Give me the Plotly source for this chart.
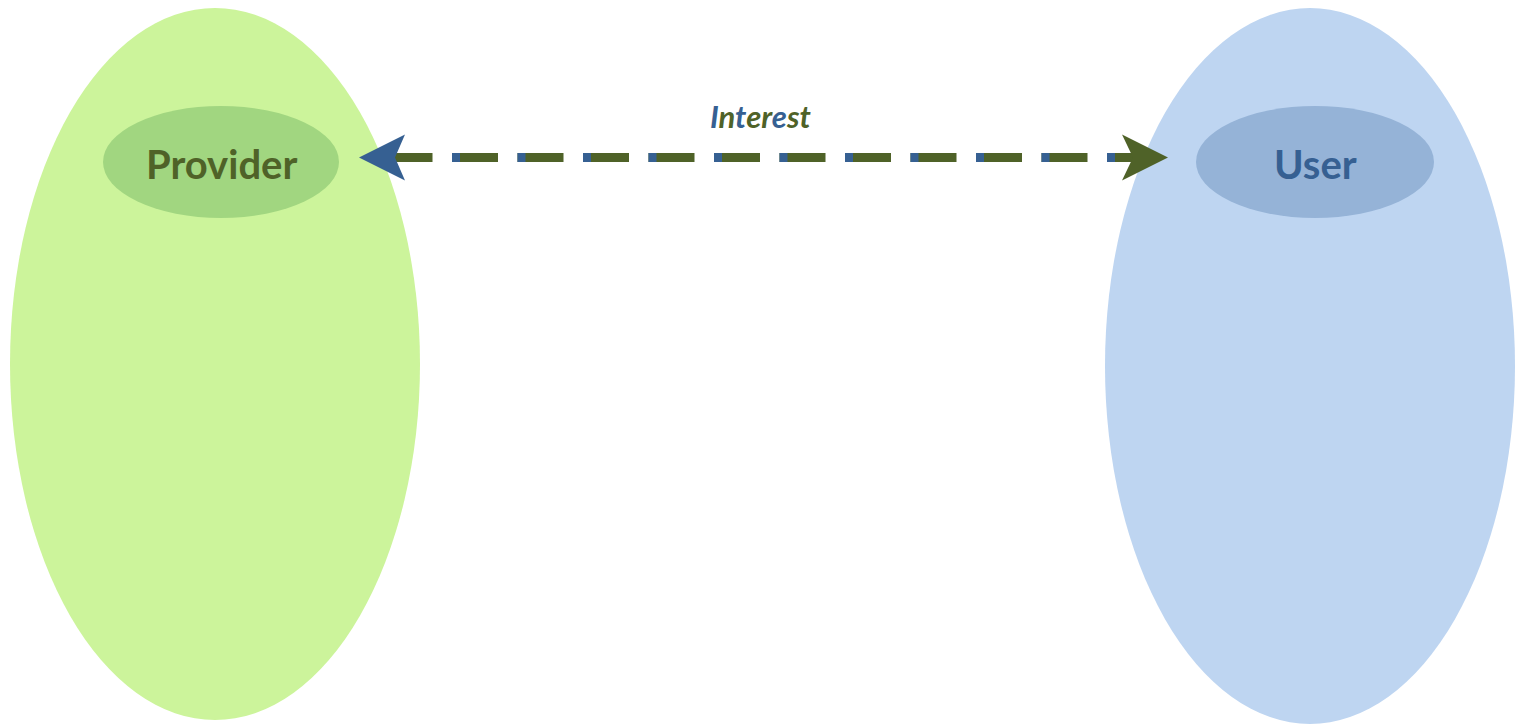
import plotly.graph_objects as go

# ---- data ----
node_labels = ["Provider", "User"]
edge_label_letters = ["I", "n", "t", "e", "r", "e", "s", "t"]
edge_letter_colors = ["blue", "green", "blue", "green", "green", "blue", "green", "green"]

# ---- layout / style ----
W, H = 1516, 726
BLUE = "#366092"
GREEN = "#4F6228"
palette = {"blue": BLUE, "green": GREEN}

outer = [dict(cx=215, cy=364, rx=205, ry=356, color="#CCF49B"),
         dict(cx=1310, cy=366, rx=205, ry=358, color="#BED5F1")]
inner = [dict(cx=221, cy=162, rx=118, ry=56, color="#A1D680", text=GREEN),
         dict(cx=1315, cy=162, rx=119, ry=56, color="#95B3D7", text=BLUE)]

line_y = 157.5
dash_start = 386.5
dash_end = 1150
period = 65.5
dash_len = 46
blue_len = 8

shapes = []
for e in outer + inner:
    shapes.append(dict(type="circle", xref="x", yref="y", layer="below",
                       x0=e["cx"] - e["rx"], x1=e["cx"] + e["rx"],
                       y0=e["cy"] - e["ry"], y1=e["cy"] + e["ry"],
                       fillcolor=e["color"], line=dict(width=0)))

# arrowheads
lt, lb, ln = 359, 405, 395
rt, rb, rn = 1168, 1122, 1133
shapes.append(dict(type="path", xref="x", yref="y", layer="above",
                   path=f"M {lt},{line_y} L {lb},{line_y-23} L {ln},{line_y} L {lb},{line_y+23} Z",
                   fillcolor=BLUE, line=dict(width=0)))
shapes.append(dict(type="path", xref="x", yref="y", layer="above",
                   path=f"M {rt},{line_y} L {rb},{line_y-23} L {rn},{line_y} L {rb},{line_y+23} Z",
                   fillcolor=GREEN, line=dict(width=0)))

fig = go.Figure()
fig.add_trace(go.Scatter(x=[dash_start, dash_end], y=[line_y, line_y], mode="lines",
                         line=dict(color=GREEN, width=9, dash=f"{dash_len}px,{period-dash_len}px"),
                         hoverinfo="skip", showlegend=False))
fig.add_trace(go.Scatter(x=[dash_start, dash_end], y=[line_y, line_y], mode="lines",
                         line=dict(color=BLUE, width=9, dash=f"{blue_len}px,{period-blue_len}px"),
                         hoverinfo="skip", showlegend=False))

annotations = []
for lab, e in zip(node_labels, inner):
    annotations.append(dict(x=e["cx"], y=e["cy"] + 2, xref="x", yref="y", text=f"<b>{lab}</b>",
                            showarrow=False, font=dict(family="Lato", size=40, color=e["text"])))
edge_text = "".join(f'<span style="color:{palette[c]}">{ch}</span>'
                    for ch, c in zip(edge_label_letters, edge_letter_colors))
annotations.append(dict(x=761, y=116, xref="x", yref="y", text=f"<b><i>{edge_text}</i></b>",
                        showarrow=False, font=dict(family="Lato", size=31, color=GREEN)))

fig.update_layout(width=W, height=H, margin=dict(l=0, r=0, t=0, b=0),
                  paper_bgcolor="white", plot_bgcolor="white",
                  shapes=shapes, annotations=annotations,
                  xaxis=dict(range=[0, W], visible=False, fixedrange=True),
                  yaxis=dict(range=[H, 0], visible=False, fixedrange=True))

fig.write_html("out.html", config={"displayModeBar": False},
               post_script="document.body.style.margin='0';document.body.style.overflow='hidden';")
